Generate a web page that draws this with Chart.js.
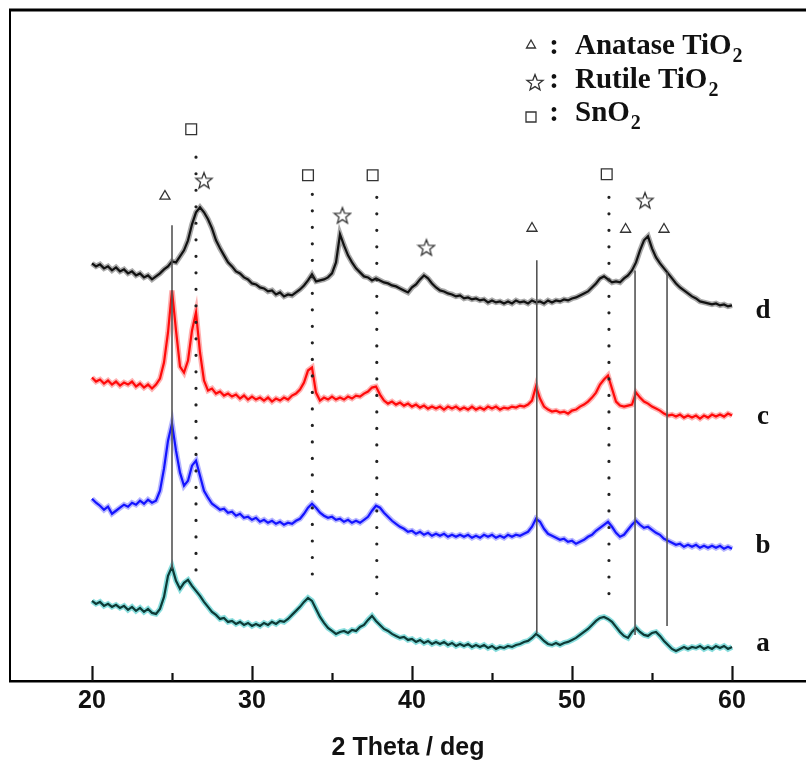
<!DOCTYPE html>
<html>
<head>
<meta charset="utf-8">
<script src="https://cdn.jsdelivr.net/npm/chart.js@4.4.1/dist/chart.umd.min.js"></script>
<style>
  html, body { margin: 0; padding: 0; background: #fff; overflow: hidden; }
  canvas { display: block; }
</style>
</head>
<body>
<canvas id="xrd" width="806" height="765"></canvas>
<script>
// 2 theta (deg), shared by the four patterns
const twoTheta = [
  20, 20.25, 20.5, 20.75, 21, 21.25, 21.5, 21.75, 22, 22.25, 22.5, 22.75,
  23, 23.25, 23.5, 23.75, 24, 24.25, 24.5, 24.75, 25, 25.25, 25.5, 25.75,
  26, 26.25, 26.5, 26.75, 27, 27.25, 27.5, 27.75, 28, 28.25, 28.5, 28.75,
  29, 29.25, 29.5, 29.75, 30, 30.25, 30.5, 30.75, 31, 31.25, 31.5, 31.75,
  32, 32.25, 32.5, 32.75, 33, 33.25, 33.5, 33.75, 34, 34.25, 34.5, 34.75,
  35, 35.25, 35.5, 35.75, 36, 36.25, 36.5, 36.75, 37, 37.25, 37.5, 37.75,
  38, 38.25, 38.5, 38.75, 39, 39.25, 39.5, 39.75, 40, 40.25, 40.5, 40.75,
  41, 41.25, 41.5, 41.75, 42, 42.25, 42.5, 42.75, 43, 43.25, 43.5, 43.75,
  44, 44.25, 44.5, 44.75, 45, 45.25, 45.5, 45.75, 46, 46.25, 46.5, 46.75,
  47, 47.25, 47.5, 47.75, 48, 48.25, 48.5, 48.75, 49, 49.25, 49.5, 49.75,
  50, 50.25, 50.5, 50.75, 51, 51.25, 51.5, 51.75, 52, 52.25, 52.5, 52.75,
  53, 53.25, 53.5, 53.75, 54, 54.25, 54.5, 54.75, 55, 55.25, 55.5, 55.75,
  56, 56.25, 56.5, 56.75, 57, 57.25, 57.5, 57.75, 58, 58.25, 58.5, 58.75,
  59, 59.25, 59.5, 59.75, 60
];

// intensities (a.u., stacked with offsets)
const curveD = [
  417, 414, 416, 412, 414, 410, 413, 409, 411, 407, 409, 405,
  407, 403, 405, 401, 404, 407, 411, 414, 419, 418, 424, 430,
  440, 456, 468, 473, 468, 461, 452, 440, 432, 425, 418, 414,
  409, 407, 403, 401, 397, 396, 393, 392, 389, 390, 386, 388,
  384, 386, 385, 388, 391, 395, 400, 406, 399, 400, 401, 403,
  407, 418, 446, 435, 425, 418, 412, 408, 404, 403, 400, 402,
  400, 398, 397, 395, 394, 392, 390, 388, 393, 396, 401, 405,
  402, 397, 393, 390, 389, 387, 386, 384, 385, 382, 383, 381,
  382, 380, 381, 378, 380, 378, 379, 377, 379, 377, 380, 378,
  379, 377, 380, 378, 379, 377, 380, 378, 380, 379, 381, 380,
  382, 383, 385, 387, 389, 393, 397, 402, 404, 401, 398, 399,
  398, 402, 405, 410, 418, 430, 440, 444, 432, 423, 417, 412,
  407, 402, 397, 393, 390, 387, 384, 382, 379, 378, 377, 376,
  377, 375, 376, 374, 375
];
const curveC = [
  303, 299, 301, 297, 300, 296, 299, 295, 298, 296, 299, 294,
  297, 293, 296, 292, 296, 302, 318, 348, 390, 350, 314, 308,
  320, 350, 368, 328, 300, 290, 292, 287, 289, 285, 287, 284,
  286, 282, 285, 281, 284, 281, 283, 280, 283, 279, 282, 280,
  283, 281, 285, 287, 291, 298, 310, 313, 288, 280, 283, 281,
  284, 281, 283, 281, 284, 282, 285, 284, 287, 289, 293, 294,
  286, 280, 277, 279, 276, 278, 275, 277, 274, 276, 273, 275,
  272, 274, 272, 274, 271, 274, 272, 274, 271, 273, 271, 274,
  271, 273, 271, 274, 272, 274, 271, 273, 272, 274, 273, 275,
  274, 276, 280, 294, 282, 274, 271, 269, 270, 268, 269, 267,
  270, 271, 274, 276, 279, 283, 288, 296, 301, 305, 292, 279,
  275, 274, 275, 276, 288, 283, 279, 277, 274, 272, 270, 267,
  265, 266, 264, 266, 263, 265, 263, 265, 262, 265, 263, 266,
  264, 266, 264, 267, 265
];
const curveB = [
  182, 178, 175, 171, 174, 167, 170, 173, 176, 174, 178, 176,
  180, 177, 181, 178, 180, 190, 212, 240, 257, 230, 208, 195,
  200, 215, 220, 205, 190, 183, 177, 174, 171, 172, 168, 169,
  165, 167, 163, 164, 161, 163, 159, 161, 158, 160, 157, 159,
  156, 158, 157, 160, 162, 167, 173, 177, 173, 168, 165, 163,
  164, 161, 162, 159, 161, 158, 160, 158, 161, 164, 170, 175,
  173, 168, 164, 160, 157, 154, 152, 149, 150, 147, 149, 146,
  148, 145, 147, 145, 147, 144, 146, 144, 146, 144, 146, 143,
  145, 143, 146, 144, 146, 143, 145, 143, 146, 144, 146, 145,
  147, 149, 154, 162, 159, 152, 147, 145, 143, 141, 142, 139,
  140, 137, 139, 141, 144, 146, 150, 153, 156, 159, 154, 148,
  144, 146, 151, 156, 160, 156, 153, 154, 151, 148, 146, 142,
  140, 138, 136, 137, 134, 136, 134, 136, 133, 135, 133, 135,
  133, 135, 132, 134, 132
];
const curveA = [
  80, 77, 79, 75, 77, 74, 76, 73, 75, 71, 74, 70,
  73, 69, 72, 68, 67, 72, 84, 105, 114, 100, 92, 98,
  101, 95, 90, 85, 79, 74, 69, 66, 62, 63, 59, 60,
  57, 59, 56, 58, 55, 57, 55, 58, 56, 59, 57, 60,
  59, 62, 66, 70, 74, 79, 83, 80, 72, 64, 58, 53,
  50, 47, 49, 50, 48, 51, 50, 54, 56, 61, 65, 60,
  56, 52, 50, 47, 45, 43, 44, 41, 42, 39, 41, 38,
  40, 37, 39, 37, 39, 36, 38, 35, 37, 35, 37, 34,
  36, 34, 36, 33, 35, 32, 34, 33, 35, 34, 36, 37,
  39, 40, 43, 47, 44, 40, 37, 36, 38, 36, 38, 39,
  41, 43, 46, 49, 52, 56, 60, 63, 64, 62, 59, 54,
  49, 45, 43, 49, 53, 49, 46, 45, 48, 49, 45, 40,
  36, 32, 30, 32, 34, 32, 34, 33, 35, 32, 34, 32,
  35, 33, 35, 32, 34
];

// phase markers (2 theta, height)
const anataseX = [24.56, 47.5, 53.35, 55.75];
const anataseY = [484, 452, 451, 451];
const rutileX = [27.0, 35.65, 40.9, 54.56];
const rutileY = [500, 465, 433, 480];
const snO2X = [26.2, 33.5, 37.54, 52.17];
const snO2Y = [551, 505, 505, 506];

// reference lines: solid = anatase, dotted = SnO2
const solidX = [25.0, 47.8, 53.94, 55.94];
const solidTop = [455, 420, 410, 408];
const solidBottom = [112, 48, 46, 55];
const dottedX = [26.5, 33.77, 37.8, 52.31];
const dottedTop = [523, 486, 483, 483];
const dottedBottom = [100, 93, 75, 73];

// sample labels
const sampleNames = ['d', 'c', 'b', 'a'];
const sampleLabelY = [362, 257, 128, 30];
const sampleLabelX = 61.94;

const tickValues = [20, 30, 40, 50, 60];
const legendSymbols = ['triangle', 'star', 'square'];
const legendNames = ['Anatase TiO', 'Rutile TiO', 'SnO'];

const SERIF = '"Liberation Serif", "Times New Roman", serif';
const SANS = '"Liberation Sans", Arial, sans-serif';

function starPath(g, cx, cy, R, r) {
  g.beginPath();
  for (let i = 0; i < 10; i++) {
    const ang = -Math.PI / 2 + i * Math.PI / 5;
    const rad = i % 2 ? r : R;
    g.lineTo(cx + rad * Math.cos(ang), cy + rad * Math.sin(ang));
  }
  g.closePath();
}

function makeStar(size) {
  const c = document.createElement('canvas');
  c.width = c.height = size;
  const g = c.getContext('2d');
  starPath(g, size / 2, size / 2 + 0.8, size / 2 - 1.5, (size / 2 - 1.5) * 0.42);
  g.fillStyle = '#fff';
  g.fill();
  g.lineWidth = 1.3;
  g.strokeStyle = '#333';
  g.stroke();
  return c;
}
const starImg = makeStar(20);

function series(values) {
  return twoTheta.map((t, i) => ({ x: t, y: values[i] }));
}

function pattern(values, core, halo) {
  return [
    { data: series(values), borderColor: core, borderWidth: 2.2, pointRadius: 0, tension: 0 },
    { data: series(values), borderColor: halo, borderWidth: 5.5, pointRadius: 0, tension: 0 }
  ];
}

function refLine(x, top, bottom, dotted) {
  return {
    data: [{ x: x, y: top }, { x: x, y: bottom }],
    borderColor: dotted ? '#222' : '#555',
    borderWidth: dotted ? 3.2 : 1.6,
    borderDash: dotted ? [0.01, 16.5] : [],
    borderCapStyle: dotted ? 'round' : 'butt',
    pointRadius: 0
  };
}

function markers(xs, ys, style, radius) {
  return {
    data: xs.map((x, i) => ({ x: x, y: ys[i] })),
    showLine: false,
    pointStyle: style,
    pointRadius: radius,
    pointBackgroundColor: '#fff',
    pointBorderColor: '#333',
    pointBorderWidth: 1.3
  };
}

const datasets = [
  markers(anataseX, anataseY, 'triangle', 5.8),
  markers(rutileX, rutileY, starImg, 9),
  markers(snO2X, snO2Y, 'rect', 7.6),
  ...solidX.map((x, i) => refLine(x, solidTop[i], solidBottom[i], false)),
  ...dottedX.map((x, i) => refLine(x, dottedTop[i], dottedBottom[i], true)),
  ...pattern(curveD, '#111111', 'rgba(40,40,40,0.4)'),
  ...pattern(curveC, '#ff0a0a', 'rgba(255,70,70,0.42)'),
  ...pattern(curveB, '#1414ff', 'rgba(80,80,255,0.42)'),
  ...pattern(curveA, '#0d3a36', 'rgba(60,200,200,0.6)')
];

function drawSymbol(ctx, kind, cx, cy) {
  ctx.save();
  ctx.lineWidth = 1.3;
  ctx.strokeStyle = '#333';
  ctx.fillStyle = '#fff';
  if (kind === 'triangle') {
    ctx.beginPath();
    ctx.moveTo(cx, cy - 5);
    ctx.lineTo(cx + 4.5, cy + 3);
    ctx.lineTo(cx - 4.5, cy + 3);
    ctx.closePath();
  } else if (kind === 'star') {
    starPath(ctx, cx, cy, 8.5, 3.6);
  } else {
    ctx.beginPath();
    ctx.rect(cx - 5, cy - 5, 10, 10);
  }
  ctx.fill();
  ctx.stroke();
  ctx.restore();
}

const framePlugin = {
  id: 'frame',
  beforeDraw(chart) {
    const ctx = chart.ctx;
    ctx.save();
    ctx.fillStyle = '#fff';
    ctx.fillRect(0, 0, chart.width, chart.height);
    ctx.restore();
  },
  afterDraw(chart) {
    const { ctx, chartArea: a, scales } = chart;
    const x = scales.x, y = scales.y;
    ctx.save();
    ctx.strokeStyle = '#000';
    ctx.lineWidth = 3;
    ctx.beginPath();
    ctx.moveTo(a.left - 1, a.top);
    ctx.lineTo(a.right, a.top);
    ctx.stroke();
    ctx.lineWidth = 2;
    ctx.beginPath();
    ctx.moveTo(a.left, a.top);
    ctx.lineTo(a.left, a.bottom);
    ctx.stroke();

    // ticks pointing inwards
    ctx.lineWidth = 2.2;
    ctx.strokeStyle = '#111';
    for (let v = 20; v <= 60; v += 5) {
      const px = Math.round(x.getPixelForValue(v)) + 0.5;
      const len = v % 10 === 0 ? 15 : 8;
      ctx.beginPath();
      ctx.moveTo(px, a.bottom);
      ctx.lineTo(px, a.bottom - len);
      ctx.stroke();
    }

    // sample labels
    ctx.fillStyle = '#111';
    ctx.textAlign = 'center';
    ctx.textBaseline = 'alphabetic';
    ctx.font = 'bold 27px ' + SERIF;
    sampleNames.forEach((n, i) => {
      ctx.fillText(n, x.getPixelForValue(sampleLabelX), y.getPixelForValue(sampleLabelY[i]));
    });

    // legend
    const baselines = [54, 88, 121];
    const symX = [531, 535, 531];
    const symY = [45, 83, 117];
    legendSymbols.forEach((s, i) => {
      drawSymbol(ctx, s, symX[i], symY[i]);
      ctx.fillStyle = '#111';
      ctx.font = 'bold 29px ' + SERIF;
      ctx.textAlign = 'center';
      ctx.fillText(':', 554, baselines[i]);
      ctx.textAlign = 'left';
      ctx.fillText(legendNames[i], 575, baselines[i]);
      const w = ctx.measureText(legendNames[i]).width;
      ctx.font = 'bold 20px ' + SERIF;
      ctx.fillText('2', 575 + w + 1, baselines[i] + 8);
    });
    ctx.restore();
  }
};

new Chart(document.getElementById('xrd'), {
  type: 'line',
  data: { datasets: datasets },
  options: {
    responsive: false,
    animation: false,
    events: [],
    layout: { autoPadding: false, padding: { left: 10, top: 10, right: 0, bottom: 0 } },
    plugins: { legend: { display: false }, tooltip: { enabled: false } },
    scales: {
      x: {
        type: 'linear',
        min: 14.875,
        max: 64.625,
        afterBuildTicks: (s) => { s.ticks = tickValues.map(v => ({ value: v })); },
        grid: { display: false, drawTicks: false },
        border: { display: true, color: '#000', width: 2.5 },
        ticks: { color: '#111', padding: 5, font: { family: SANS, size: 25, weight: 'bold' } },
        title: {
          display: true,
          text: '2 Theta / deg',
          color: '#111',
          padding: { top: 12, bottom: 2 },
          font: { family: SANS, size: 25, weight: 'bold' }
        }
      },
      y: { display: false, min: 0, max: 670 }
    }
  },
  plugins: [framePlugin]
});
</script>
</body>
</html>
